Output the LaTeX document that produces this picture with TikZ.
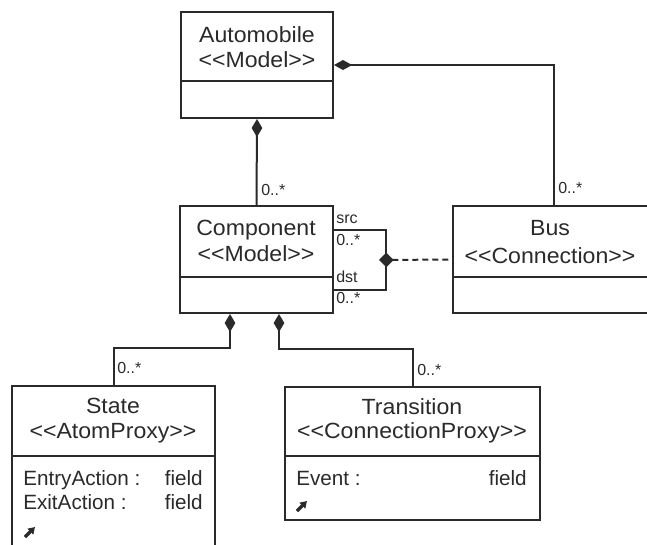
\documentclass[tikz,border=0pt]{standalone}
\usepackage{fontspec}
\setmainfont{Liberation Sans}
\newfontfamily\widesans[FakeStretch=1.05]{Liberation Sans}
\usetikzlibrary{arrows.meta,calc,fit}
\definecolor{ink}{HTML}{2A2A2A}
\begin{document}
\begin{tikzpicture}[x=0.75pt,y=-0.75pt,
  classbox/.style={draw=ink, line width=1.5pt, inner sep=0pt},
  sepline/.style={draw=ink, line width=1.5pt},
  title/.style={font=\widesans\fontsize{16.5pt}{19pt}\selectfont, text=ink, anchor=base, inner sep=0pt},
  attr/.style={font=\fontsize{15.5pt}{18pt}\selectfont, text=ink, inner sep=0pt},
  mult/.style={font=\fontsize{12pt}{14pt}\selectfont, text=ink, anchor=base west, inner sep=0pt},
  link/.style={draw=ink, line width=1.5pt},
  compv/.style={link, {Diamond[length=13.5pt,width=8pt]}-},
  comph/.style={link, {Diamond[length=13.5pt,width=7.5pt]}-},
  assoc/.style={link, dash pattern=on 4.5pt off 3pt},
  handle/.style={draw=ink, line width=2.4pt, -{Triangle[length=5pt,width=6pt]}}
]
\useasboundingbox (0,0) rectangle (647,544);
\clip (0,0) rectangle (647,544);

% ---- class boxes ----
\node[classbox, fit={(181,12) (333,118)}] (auto) {};
\node[classbox, fit={(180,206) (333,313)}] (comp) {};
\node[classbox, fit={(453,206) (655,313)}] (bus) {};
\node[classbox, fit={(12,386) (215,570)}] (state) {};
\node[classbox, fit={(285,387) (540,520)}] (trans) {};

% compartment separators
\draw[sepline] (181,81) -- (333,81);
\draw[sepline] (180,277) -- (333,277);
\draw[sepline] (453,277) -- (655,277);
\draw[sepline] (12,456) -- (215,456);
\draw[sepline] (285,456) -- (540,456);

% ---- names and stereotypes ----
\node[title] (autoName) at (257,42) {Automobile};
\node[title] (autoSt) at (257,67) {<{}<Model>{}>};
\node[title] (compName) at (256,235) {Component};
\node[title] (compSt) at (256,261) {<{}<Model>{}>};
\node[title] (busName) at (550,235) {Bus};
\node[title] (busSt) at (550,263) {<{}<Connection>{}>};
\node[title] (stateName) at (113,413) {State};
\node[title] (stateSt) at (113,438) {<{}<AtomProxy>{}>};
\node[title] (transName) at (412,414) {Transition};
\node[title] (transSt) at (412,438) {<{}<ConnectionProxy>{}>};

% ---- attributes ----
\node[attr, anchor=base west] (entryA) at (23,485) {EntryAction :};
\node[attr, anchor=base east] (entryF) at (203,485) {field};
\node[attr, anchor=base west] (exitA) at (23,509) {ExitAction :};
\node[attr, anchor=base east] (exitF) at (203,509) {field};
\node[attr, anchor=base west] (eventA) at (296,485) {Event :};
\node[attr, anchor=base east] (eventF) at (527,485) {field};

% operation handles
\coordinate (sh0) at (25,537);
\coordinate (sh1) at (35,527);
\draw[handle] (sh0) -- (sh1);
\coordinate (th0) at (297,511);
\coordinate (th1) at (307,501);
\draw[handle] (th0) -- (th1);

% ---- compositions ----
\draw[compv] (auto.south) -- (comp.north);
\draw[comph] (auto.east) -| (bus.north);
\draw[compv] ($(comp.south west)+(51,0)$) |- ($(state.north)+(0,-37)$) -- (state.north);
\draw[compv] ($(comp.south west)+(100,0)$) |- ($(trans.north)+(0,-37)$) -- (trans.north);

% ---- src/dst association with association class Bus ----
\coordinate (jn) at (386,260);
\draw[link] ($(comp.north east)+(0,25)$) -| (jn) |- ($(comp.south east)+(0,-24)$);
\draw[assoc, {Diamond[length=11pt,width=11pt]}-] ($(jn)+(-7,0)$) -- (bus.west);

% ---- multiplicities and role names ----
\node[mult] (m1) at (261,195) {0..*};
\node[mult] (m2) at (558,193) {0..*};
\node[mult] (srcL) at (336,223) {src};
\node[mult] (m3) at (336,245) {0..*};
\node[mult] (dstL) at (336,282) {dst};
\node[mult] (m4) at (336,303) {0..*};
\node[mult] (m5) at (117,373) {0..*};
\node[mult] (m6) at (417,375) {0..*};
\end{tikzpicture}
\end{document}
